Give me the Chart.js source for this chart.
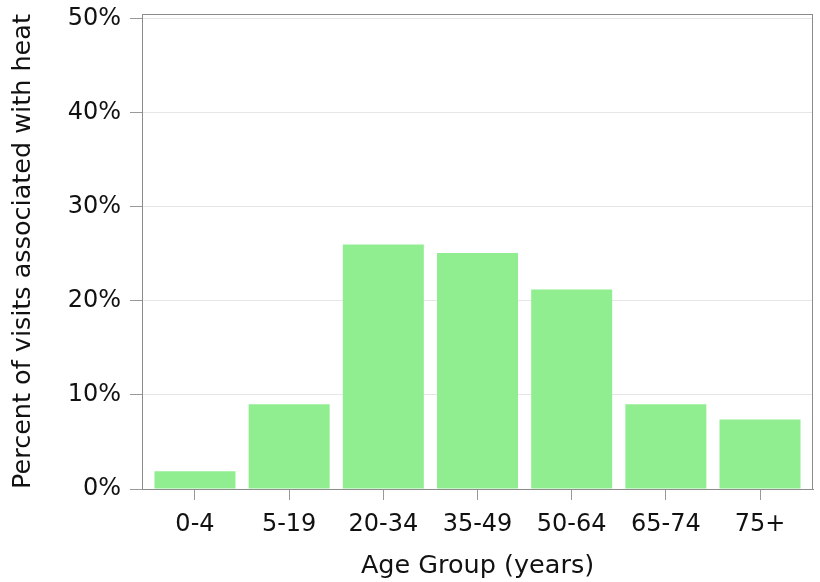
<!DOCTYPE html>
<html>
<head>
<meta charset="utf-8">
<script src="https://cdn.jsdelivr.net/npm/chart.js@4"></script>
<style>
  html, body { margin: 0; padding: 0; background: #fff; }
  #wrap { width: 820px; height: 582px; }
</style>
</head>
<body>
<div id="wrap"><canvas id="heatChart"></canvas></div>
<script>
// Chart data
const ageGroups = ['0-4', '5-19', '20-34', '35-49', '50-64', '65-74', '75+'];
const heatPercent = [1.9, 9.0, 26.0, 25.1, 21.2, 9.0, 7.4];
const yTickValues = [0, 10, 20, 30, 40, 50];

const frameColor = '#8c8c8c';

// draws the box round the plot area
const frameBox = {
    id: 'frameBox',
    afterDraw(chart) {
        const { ctx, chartArea: a } = chart;
        ctx.save();
        ctx.strokeStyle = frameColor;
        ctx.lineWidth = 1;
        ctx.strokeRect(a.left + 0.5, a.top + 0.5, a.right - a.left - 1, a.bottom - a.top);
        ctx.restore();
    }
};

Chart.defaults.font.family = '"DejaVu Sans", sans-serif';
Chart.defaults.color = '#111';

new Chart(document.getElementById('heatChart'), {
    type: 'bar',
    data: {
        labels: ageGroups,
        datasets: [{
            data: heatPercent,
            backgroundColor: '#90ee90',
            borderWidth: 0,
            barPercentage: 0.86,
            categoryPercentage: 1
        }]
    },
    options: {
        responsive: true,
        maintainAspectRatio: false,
        animation: false,
        layout: { padding: { top: 14, right: 7, bottom: 0, left: 0 } },
        plugins: {
            legend: { display: false },
            tooltip: { enabled: false }
        },
        scales: {
            x: {
                grid: { drawOnChartArea: false, tickColor: '#999', tickLength: 11, offset: false },
                border: { color: frameColor },
                ticks: { font: { size: 24 }, padding: 10 },
                title: { display: true, text: 'Age Group (years)', font: { size: 25.5 }, padding: { top: 0, bottom: 0 } },
                afterFit(scale) {
                    scale.height = 93;
                    scale.paddingLeft = 0;
                    scale.paddingRight = 0;
                },
                // a little extra room at both ends, as in the original
                afterUpdate(scale) {
                    scale._startValue -= 0.0625;
                    scale._valueRange += 0.125;
                }
            },
            y: {
                min: 0,
                max: 50.5,
                grid: { color: '#e6e6e6', tickColor: '#999', tickLength: 12 },
                border: { color: frameColor },
                afterBuildTicks(scale) {
                    scale.ticks = yTickValues.map(v => ({ value: v }));
                },
                ticks: {
                    font: { size: 24 },
                    padding: 9,
                    callback: v => v + '%'
                },
                title: { display: true, text: 'Percent of visits associated with heat', font: { size: 25.5 }, padding: { top: 8, bottom: 0 } },
                afterFit(scale) {
                    scale.width = 142;
                    scale.paddingTop = 0;
                    scale.paddingBottom = 0;
                }
            }
        }
    },
    plugins: [frameBox]
});
</script>
</body>
</html>
